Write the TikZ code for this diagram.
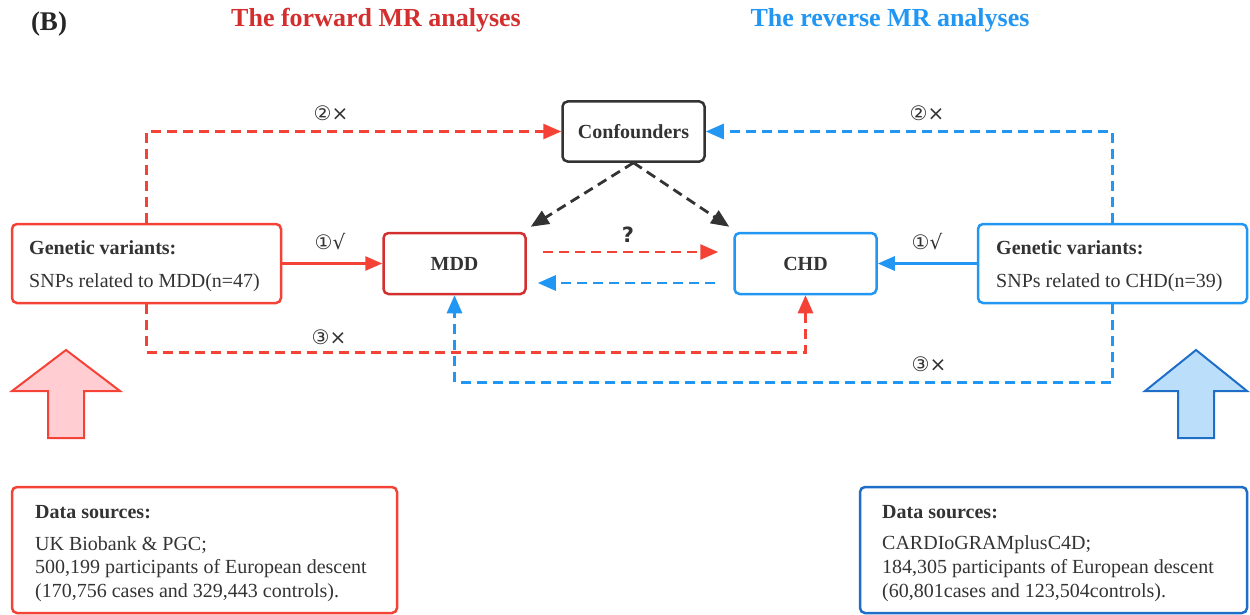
\documentclass[tikz,border=0pt]{standalone}
\usepackage{fontspec}
\setmainfont{Liberation Serif}
\newfontfamily\symf{DejaVu Sans}
\usetikzlibrary{arrows.meta,calc}
\definecolor{fred}{RGB}{211,47,47}
\definecolor{lred}{RGB}{244,67,54}
\definecolor{lblue}{RGB}{33,150,243}
\definecolor{dblue}{RGB}{30,110,200}
\definecolor{pinkf}{RGB}{255,205,210}
\definecolor{bluef}{RGB}{187,222,251}
\definecolor{txt}{RGB}{51,51,51}
\tikzset{
  box/.style={draw, line width=2.5pt, rounded corners=5pt, inner sep=0pt},
  lnk/.style={line width=2.6pt, -{Triangle[length=17pt,width=14pt]}},
  dsh/.style={line width=2.8pt, dash pattern=on 10pt off 6pt, -{Triangle[length=18pt,width=15pt]}},
  bt/.style={font=\fontsize{20}{24}\selectfont\bfseries, text=txt, inner sep=0pt},
  nt/.style={font=\fontsize{20}{24}\selectfont, text=txt, inner sep=0pt},
  lab/.style={font=\symf\fontsize{20}{22}\selectfont, text=txt, inner sep=0pt},
}
\begin{document}
\begin{tikzpicture}[x=1pt,y=-1pt]
\useasboundingbox (0,0) rectangle (1250,615);
% titles
\node[font=\fontsize{27}{30}\selectfont\bfseries, text=black!85, inner sep=0pt] (tb) at (49,24) {(B)};
\node[font=\fontsize{26}{30}\selectfont\bfseries, text=fred, inner sep=0pt] (tf) at (376,20) {The forward MR analyses};
\node[font=\fontsize{26}{30}\selectfont\bfseries, text=lblue, inner sep=0pt] (tr) at (890,20) {The reverse MR analyses};
% main boxes
\node[box, draw=txt, minimum width=142pt, minimum height=60pt] (conf) at (633.5,131.5) {};
\node[bt] (conft) at (633.5,131.5) {Confounders};
\node[box, draw=fred, minimum width=142pt, minimum height=61pt] (mdd) at (454.5,263.5) {};
\node[bt] (mddt) at (454.5,264) {MDD};
\node[box, draw=lblue, minimum width=142pt, minimum height=61pt] (chd) at (805.5,263.5) {};
\node[bt] (chdt) at (805.5,264) {CHD};
% genetic boxes
\node[box, draw=lred, minimum width=269pt, minimum height=79pt] (gl) at (146.5,263.5) {};
\node[bt, anchor=west] (gl1) at (29,248) {Genetic variants:};
\node[nt, anchor=west] (gl2) at (29,283) {SNPs related to MDD(n=47)};
\node[box, draw=lblue, minimum width=269pt, minimum height=79pt] (gr) at (1112.5,263.5) {};
\node[bt, anchor=west] (gr1) at (996,248) {Genetic variants:};
\node[nt, anchor=west] (gr2) at (996,283) {SNPs related to CHD(n=39)};
% data boxes
\node[box, draw=lred, minimum width=385pt, minimum height=126pt] (dl) at (204.5,550) {};
\node[bt, anchor=west] (dl1) at (35,512) {Data sources:};
\node[nt, anchor=west] (dl2) at (35,545) {UK Biobank \& PGC;};
\node[nt, anchor=west] (dl3) at (35,569) {500,199 participants of European descent};
\node[nt, anchor=west] (dl4) at (35,593) {(170,756 cases and 329,443 controls).};
\node[box, draw=dblue, minimum width=387pt, minimum height=126pt] (dr) at (1053.5,550) {};
\node[bt, anchor=west] (dr1) at (882,512) {Data sources:};
\node[nt, anchor=west] (dr2) at (882,545) {CARDIoGRAMplusC4D;};
\node[nt, anchor=west] (dr3) at (882,569) {184,305 participants of European descent};
\node[nt, anchor=west] (dr4) at (882,593) {(60,801cases and 123,504controls).};
% big arrows
\draw[lred, fill=pinkf, line width=2pt, line join=miter]
  (66,350) -- (120,391) -- (84,391) -- (84,438) -- (48,438) -- (48,391) -- (12,391) -- cycle;
\draw[dblue, fill=bluef, line width=2pt, line join=miter]
  (1196,350) -- (1247,391) -- (1214,391) -- (1214,438) -- (1178,438) -- (1178,391) -- (1145,391) -- cycle;
% connectors
\draw[lnk, lred] (gl.east) -- (mdd.west);
\draw[lnk, lblue] (gr.west) -- (chd.east);
\draw[dsh, lred] (gl.north) |- (conf.west);
\draw[dsh, lblue] (gr.north) |- (conf.east);
\draw[dsh, txt] (conf.south) -- ([shift={(4pt,5pt)}]mdd.north east);
\draw[dsh, txt] (conf.south) -- ([shift={(-4pt,5pt)}]chd.north west);
\draw[dsh, lred] ([shift={(16pt,11.5pt)}]mdd.east) -- ([shift={(-15pt,11.5pt)}]chd.west);
\draw[dsh, lblue] ([shift={(-18pt,-19.5pt)}]chd.west) -- ([shift={(11pt,-19.5pt)}]mdd.east);
\draw[dsh, lred] (gl.south) -- ++(0,48) -| (chd.south);
\draw[dsh, lblue] (gr.south) -- ++(0,78) -| (mdd.south);
% labels
\node[lab] (l2a) at (331,113) {②×};
\node[lab] (l2b) at (927,113) {②×};
\node[lab] (l1a) at (330,242) {①√};
\node[lab] (l1b) at (927,242) {①√};
\node[lab] (l3a) at (329,337) {③×};
\node[lab] (l3b) at (929,364) {③×};
\node[font=\symf\fontsize{21}{24}\selectfont\bfseries, text=txt, inner sep=0pt] (q) at (628,235) {?};
\end{tikzpicture}
\end{document}
